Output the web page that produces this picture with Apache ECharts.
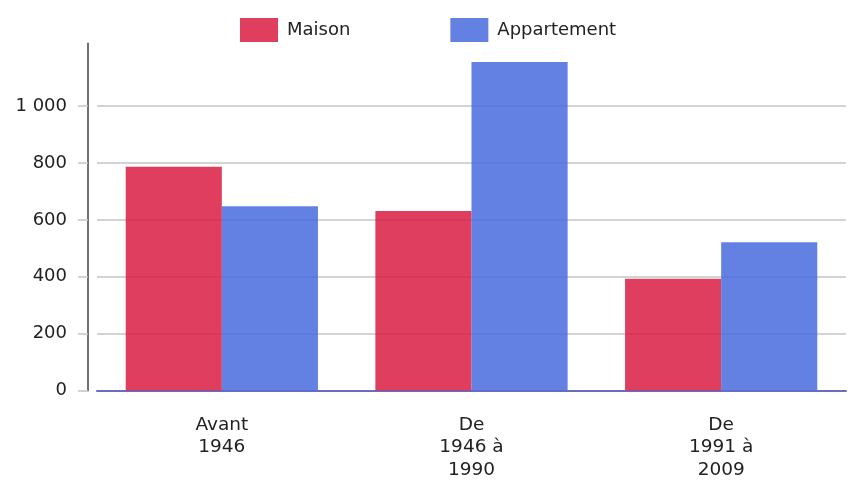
<!DOCTYPE html>
<html>
<head>
<meta charset="utf-8">
<script src="https://cdn.jsdelivr.net/npm/echarts@6/dist/echarts.min.js"></script>
<style>
  html, body { margin: 0; padding: 0; background: #fff; }
  #chart { width: 857px; height: 481px; }
</style>
</head>
<body>
<div id="chart"></div>
<script>
// Logements par période de construction
const categories = ['Avant\n1946', 'De\n1946 à\n1990', 'De\n1991 à\n2009'];
const maison = [787, 631, 393];
const appartement = [648, 1155, 521];
const yTicks = [0, 200, 400, 600, 800, 1000];

const fontFamily = '"DejaVu Sans", Verdana, sans-serif';
const textColor = '#222';

function formatThousands(v) {
  return String(v).replace(/\B(?=(\d{3})+(?!\d))/g, '\u00a0');
}

const chart = echarts.init(document.getElementById('chart'), null, { renderer: 'canvas' });

chart.setOption({
  animation: false,
  backgroundColor: '#fff',
  textStyle: { fontFamily: fontFamily },
  legend: {
    top: 13,
    left: 235,
    itemWidth: 38,
    itemHeight: 24,
    itemGap: 100,
    icon: 'rect',
    textStyle: { fontSize: 18, color: textColor, fontFamily: fontFamily, padding: [0, 0, 0, 4] },
    data: ['Maison', 'Appartement']
  },
  grid: {
    left: 97,
    right: 11,
    top: 43.6,
    bottom: 86,
    containLabel: false
  },
  xAxis: {
    type: 'category',
    data: categories,
    axisLine: { show: true, lineStyle: { color: '#6c6cc4', width: 2 } },
    axisTick: { show: false },
    axisLabel: {
      fontSize: 18.5,
      color: textColor,
      fontFamily: fontFamily,
      lineHeight: 22.5,
      margin: 23,
      interval: 0
    },
    splitLine: { show: false }
  },
  yAxis: {
    type: 'value',
    min: 0,
    max: 1220,
    interval: 200,
    offset: 9,
    axisLine: { show: true, lineStyle: { color: '#707070', width: 2 } },
    axisTick: {
      show: true,
      length: 10,
      customValues: yTicks,
      lineStyle: { color: '#c4c4c4', width: 1.5 }
    },
    axisLabel: {
      fontSize: 18,
      color: textColor,
      fontFamily: fontFamily,
      margin: 21,
      customValues: yTicks,
      formatter: function (v) { return formatThousands(v); }
    },
    splitLine: {
      show: true,
      lineStyle: {
        color: ['#c4c4c4', '#c4c4c4', '#c4c4c4', '#c4c4c4', '#c4c4c4', '#c4c4c4', 'rgba(0,0,0,0)', 'rgba(0,0,0,0)'],
        width: 1.5
      }
    }
  },
  series: [
    {
      name: 'Maison',
      type: 'bar',
      data: maison,
      barCategoryGap: '23%',
      barGap: '0%',
      itemStyle: { color: 'rgb(219,30,68)', opacity: 0.86 }
    },
    {
      name: 'Appartement',
      type: 'bar',
      data: appartement,
      barCategoryGap: '23%',
      barGap: '0%',
      itemStyle: { color: 'rgb(72,108,222)', opacity: 0.86 }
    }
  ]
});
</script>
</body>
</html>
